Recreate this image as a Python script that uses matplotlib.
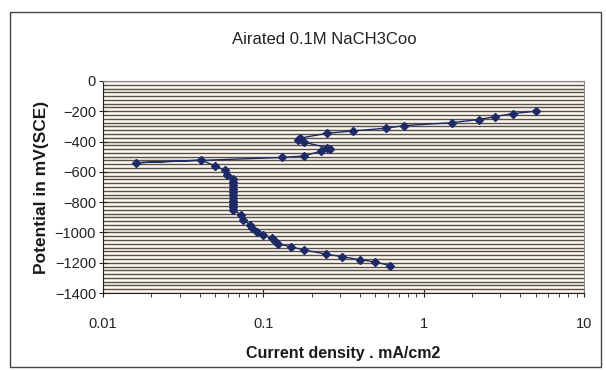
import matplotlib.pyplot as plt
import matplotlib.ticker as mticker
from matplotlib.patches import Rectangle

plt.rcParams['font.family'] = ['Liberation Sans', 'DejaVu Sans']

# polarization scan, from the cathodic end up to the anodic end
current = [0.62, 0.5, 0.4, 0.31, 0.246, 0.18, 0.148, 0.124, 0.118, 0.113,
           0.099, 0.091, 0.085, 0.083, 0.075, 0.073,
           0.065, 0.065, 0.065, 0.065, 0.065, 0.065, 0.065, 0.065, 0.065, 0.065, 0.065,
           0.059, 0.058, 0.05, 0.041, 0.016, 0.13, 0.18, 0.23, 0.26, 0.25,
           0.18, 0.165, 0.17, 0.25, 0.36, 0.58, 0.75, 1.5, 2.2, 2.8, 3.6, 5.0]
potential = [-1220, -1195, -1180, -1160, -1143, -1116, -1094, -1077, -1057, -1039,
             -1017, -995, -973, -951, -918, -885,
             -852, -830, -810, -790, -770, -750, -730, -710, -690, -665, -645,
             -621, -590, -561, -522, -540, -505, -495, -462, -450, -440,
             -405, -388, -377, -345, -330, -312, -295, -275, -255, -235, -215, -200]

title = "Airated 0.1M NaCH3Coo"
xlabel = "Current density . mA/cm2"
ylabel = "Potential in mV(SCE)"

fig = plt.figure(figsize=(6.06, 3.71), dpi=100)
fig.patch.set_facecolor('white')
ax = fig.add_axes([0.170, 0.2102, 0.7937, 0.5715])
ax.set_facecolor('#fcf9ee')

# chart border
fig.patches.append(Rectangle((0.016, 0.012), 0.975, 0.955, transform=fig.transFigure,
                             fill=False, edgecolor='#444444', linewidth=1.0))

ax.plot(current, potential, color='#1e2a66', linewidth=1.0, marker='D',
        markersize=4, markerfacecolor='#1e2a66', markeredgecolor='#1e2a66', zorder=3)

ax.set_xscale('log')
ax.set_xlim(0.01, 10)
ax.set_ylim(-1400, 0)
ax.set_yticks(range(-1400, 1, 200))
ax.yaxis.set_minor_locator(mticker.MultipleLocator(25))
ax.xaxis.set_major_formatter(mticker.FuncFormatter(lambda v, p: f"{v:g}"))
ax.xaxis.set_minor_formatter(mticker.NullFormatter())

ax.grid(True, which='both', axis='y', color='#5a4f4b', linewidth=1.0)
ax.tick_params(axis='y', which='major', direction='inout', length=6, labelsize=10.5,
               colors='#222222', pad=2)
ax.tick_params(axis='y', which='minor', length=0)
ax.tick_params(axis='x', which='major', direction='inout', length=6, labelsize=10.5,
               colors='#222222', pad=14)
ax.tick_params(axis='x', which='minor', direction='out', length=3, color='#222222')

for s in ['left', 'bottom']:
    ax.spines[s].set_color('#222222')
for s in ['top', 'right']:
    ax.spines[s].set_color('#888888')

ax.set_xlabel(xlabel, fontsize=11.5, fontweight='bold', labelpad=11, color='#1a1a1a')
ax.set_ylabel(ylabel, fontsize=12.5, fontweight='bold', labelpad=4, color='#1a1a1a')
fig.text(0.535, 0.893, title, ha='center', va='center', fontsize=12, color='#222222')

fig.savefig('out.png', dpi=100)
